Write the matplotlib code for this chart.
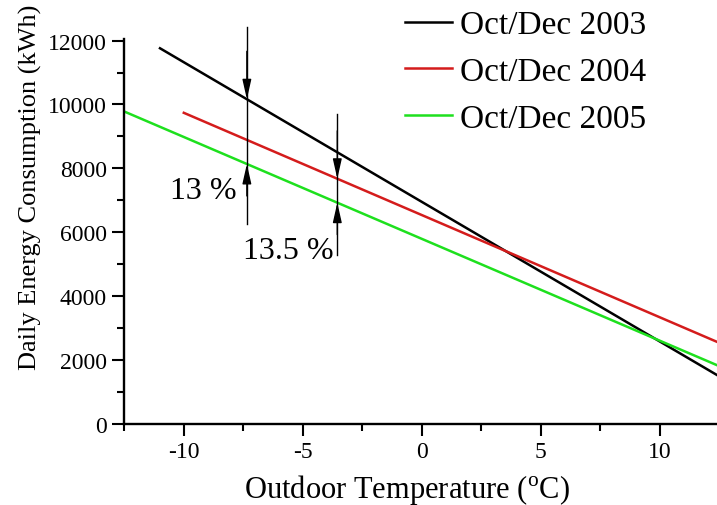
import numpy as np
import matplotlib
matplotlib.use('Agg')
import matplotlib.pyplot as plt
from matplotlib.ticker import MultipleLocator

# Fitted consumption lines
temps_2003 = [-11.0, 12.5]
kwh_2003 = [11760, 1490]
temps_2004 = [-10.0, 12.5]
kwh_2004 = [9740, 2540]
temps_2005 = [-12.5, 12.5]
kwh_2005 = [9780, 1810]
labels = ['Oct/Dec 2003', 'Oct/Dec 2004', 'Oct/Dec 2005']

# Percentage markers: x position, line top/bottom, label
arrow_x = [-7.35, -3.55]
arrow_top = [12420, 9705]
arrow_bottom = [6262, 5290]
pct_labels = ['13 %', '13.5 %']
pct_pos = [(-9.2, 7295), (-5.6, 5430)]

plt.rcParams['font.family'] = ['Liberation Serif', 'DejaVu Serif']
plt.rcParams['mathtext.fontset'] = 'custom'
plt.rcParams['mathtext.rm'] = 'Liberation Serif'
plt.rcParams['axes.unicode_minus'] = False

fig = plt.figure(figsize=(7.17, 5.06), dpi=100)
ax = fig.add_axes([124.3 / 717, 81 / 506, 595 / 717, 385 / 506])

ax.plot(temps_2003, kwh_2003, color='black', lw=1.8, label=labels[0])
ax.plot(temps_2004, kwh_2004, color='#d41c1c', lw=1.8, label=labels[1])
ax.plot(temps_2005, kwh_2005, color='#1ee01e', lw=1.8, label=labels[2])

ax.set_xlim(-12.5, 12.5)
ax.set_ylim(0, 12050)

# vertical marker lines with arrow heads
head = dict(arrowstyle='-|>,head_length=1.2,head_width=0.27', color='black',
            lw=1.0, mutation_scale=10, shrinkA=0, shrinkB=0)
upper_lines = [(temps_2003, kwh_2003), (temps_2004, kwh_2004)]
for i, x in enumerate(arrow_x):
    ax.plot([x, x], [arrow_top[i], arrow_bottom[i]], color='black', lw=1.0, clip_on=False)
    top_tip = np.interp(x, *upper_lines[i])
    low_tip = np.interp(x, temps_2005, kwh_2005)
    ax.annotate('', xy=(x, top_tip), xytext=(x, top_tip + 1500), arrowprops=head,
                annotation_clip=False)
    ax.annotate('', xy=(x, low_tip), xytext=(x, low_tip - 1000), arrowprops=head,
                annotation_clip=False)
    ax.text(pct_pos[i][0], pct_pos[i][1], pct_labels[i], fontsize=23,
            ha='center', va='center')

for s in ['top', 'right']:
    ax.spines[s].set_visible(False)
for s in ['left', 'bottom']:
    ax.spines[s].set_linewidth(1.7)

ax.xaxis.set_major_locator(MultipleLocator(5))
ax.xaxis.set_minor_locator(MultipleLocator(2.5))
ax.yaxis.set_major_locator(MultipleLocator(2000))
ax.yaxis.set_minor_locator(MultipleLocator(1000))
ax.tick_params(which='major', direction='out', length=8.6, width=1.5, labelsize=17, pad=4)
ax.tick_params(which='minor', direction='out', length=4.8, width=1.5)

ax.set_xlabel(r'Outdoor Temperature ($^{\mathrm{o}}$C)', fontsize=22)
ax.xaxis.label.set_va('baseline')
ax.xaxis.set_label_coords(0.475, (425 - 498) / 385)
ax.set_ylabel('Daily Energy Consumption (kWh)', fontsize=19)
ax.yaxis.set_label_coords(-0.138, 0.618)

ax.legend(loc='upper left', bbox_to_anchor=(405 / 717, 1 - 11 / 506),
          bbox_transform=fig.transFigure, frameon=False, fontsize=24,
          handlelength=1.41, handletextpad=0.24, labelspacing=0.48,
          borderpad=0, borderaxespad=0)

plt.savefig('out.png', dpi=100)
